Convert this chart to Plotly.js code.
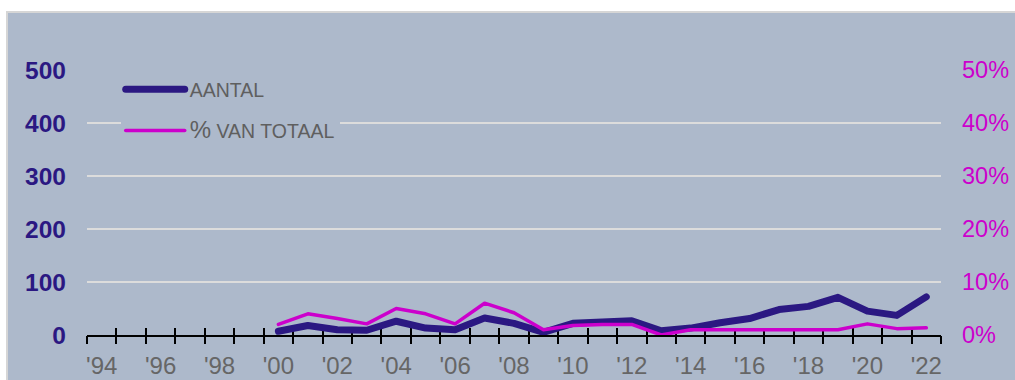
<!DOCTYPE html>
<html>
<head>
<meta charset="utf-8">
<script src="https://cdn.plot.ly/plotly-3.0.1.min.js"></script>
<style>
  html, body { margin:0; padding:0; background:#ffffff; width:1015px; height:380px; overflow:hidden; }
  #bg { position:absolute; left:6px; top:11px; right:0; bottom:0; background:#adb9cb; border-top:2px solid #d6d6d6; border-left:2px solid #d6d6d6; }
  #chart { position:absolute; left:0; top:0; width:1015px; height:380px; }
  #chart .scatterlayer path.js-line, #chart .legendlines path { stroke-linejoin: round !important; stroke-linecap: round !important; }
</style>
</head>
<body>
<div id="bg"></div>
<div id="chart"></div>
<script>
// Axis categories (all years shown on the axis)
const axisYears = [1994,1995,1996,1997,1998,1999,2000,2001,2002,2003,2004,2005,2006,2007,2008,2009,2010,2011,2012,2013,2014,2015,2016,2017,2018,2019,2020,2021,2022];
// Labeled years and their tick labels
const labelYears = [1994,1996,1998,2000,2002,2004,2006,2008,2010,2012,2014,2016,2018,2020,2022];
const labelText = ["'94","'96","'98","'00","'02","'04","'06","'08","'10","'12","'14","'16","'18","'20","'22"];
// Data years
const years = [2000,2001,2002,2003,2004,2005,2006,2007,2008,2009,2010,2011,2012,2013,2014,2015,2016,2017,2018,2019,2020,2021,2022];
// AANTAL (left axis)
const aantal = [7,18,10,9,26,13,10,32,22,5,22,26,27,8,13,23,31,48,54,71,45,37,72];
// % VAN TOTAAL (right axis, percent)
const pctTotaal = [2.0,4.0,3.1,2.1,5.0,4.0,2.1,6.0,4.2,1.0,1.8,2.0,2.0,0.0,1.0,1.0,1.0,1.0,1.0,1.0,2.1,1.2,1.35];
// Left and right tick values
const leftTicks = [0,100,200,300,400,500];
const rightTicks = [0,10,20,30,40,50];
const rightTickText = ["0%","10%","20%","30%","40%","50%"];

const bounds = axisYears.map(y => y - 0.5).concat([axisYears[axisYears.length-1] + 0.5]);
const xRange = [bounds[0], bounds[bounds.length-1]];

const navy = '#2b1882';
const magenta = '#cc00cc';
const font = '"Liberation Sans", Arial, sans-serif';

const traces = [
  { x: years, y: aantal, type:'scatter', mode:'lines', name:'AANTAL',
    line:{color:navy, width:7}, xaxis:'x', yaxis:'y', legendgroup:'a' },
  { x: years, y: pctTotaal, type:'scatter', mode:'lines',
    name:'<span style="font-size:24px">%</span> VAN TOTAAL',
    line:{color:magenta, width:3.5}, xaxis:'x', yaxis:'y2', legendgroup:'b' },
  { x: [], y: [], type:'scatter', xaxis:'x2', yaxis:'y', showlegend:false, hoverinfo:'skip' },
  { x: [], y: [], type:'scatter', xaxis:'x3', yaxis:'y', showlegend:false, hoverinfo:'skip' }
];

const layout = {
  width:1015, height:380,
  margin:{l:87.3, r:74.3, t:69.5, b:44.5, pad:0},
  paper_bgcolor:'rgba(0,0,0,0)',
  plot_bgcolor:'rgba(0,0,0,0)',
  showlegend:true,
  legend:{
    x:0.0395, y:1.0, xanchor:'left', yanchor:'top',
    bgcolor:'#adb9cb', borderwidth:0,
    font:{family:font, size:19.5, color:'#5f5f5f'},
    itemwidth:59, traceorder:'grouped', tracegroupgap:13
  },
  xaxis:{
    type:'linear', range:xRange, tickmode:'array', tickvals:labelYears, ticktext:labelText,
    ticks:'', showgrid:false, zeroline:false, showline:true, linecolor:'#000000', linewidth:2,
    tickfont:{family:font, size:24, color:'#666666'}, ticklabelstandoff:8,
    anchor:'y', layer:'below traces'
  },
  xaxis2:{
    type:'linear', range:xRange, overlaying:'x', anchor:'y', tickmode:'array', tickvals:bounds,
    ticks:'outside', ticklen:8, tickwidth:2, tickcolor:'#000000', showticklabels:false,
    showgrid:false, zeroline:false, showline:false, layer:'below traces'
  },
  xaxis3:{
    type:'linear', range:xRange, overlaying:'x', anchor:'y', tickmode:'array', tickvals:bounds,
    ticks:'inside', ticklen:7, tickwidth:2, tickcolor:'#000000', showticklabels:false,
    showgrid:false, zeroline:false, showline:false, layer:'below traces'
  },
  yaxis:{
    range:[0,500], tickmode:'array', tickvals:leftTicks, ticks:'',
    showgrid:true, gridcolor:'#dcdcdc', gridwidth:1.7, zeroline:false, showline:false,
    tickfont:{family:font, size:24.5, color:navy, weight:'bold'}, ticklabelstandoff:20
  },
  yaxis2:{
    range:[0,50], overlaying:'y', side:'right', anchor:'x', tickmode:'array', tickvals:rightTicks,
    ticktext:rightTickText, ticks:'', showgrid:false, zeroline:false, showline:false,
    tickfont:{family:font, size:23.5, color:magenta}, ticklabelstandoff:20
  },
  hovermode:false
};

Plotly.newPlot('chart', traces, layout, {staticPlot:true, displayModeBar:false});
</script>
</body>
</html>
